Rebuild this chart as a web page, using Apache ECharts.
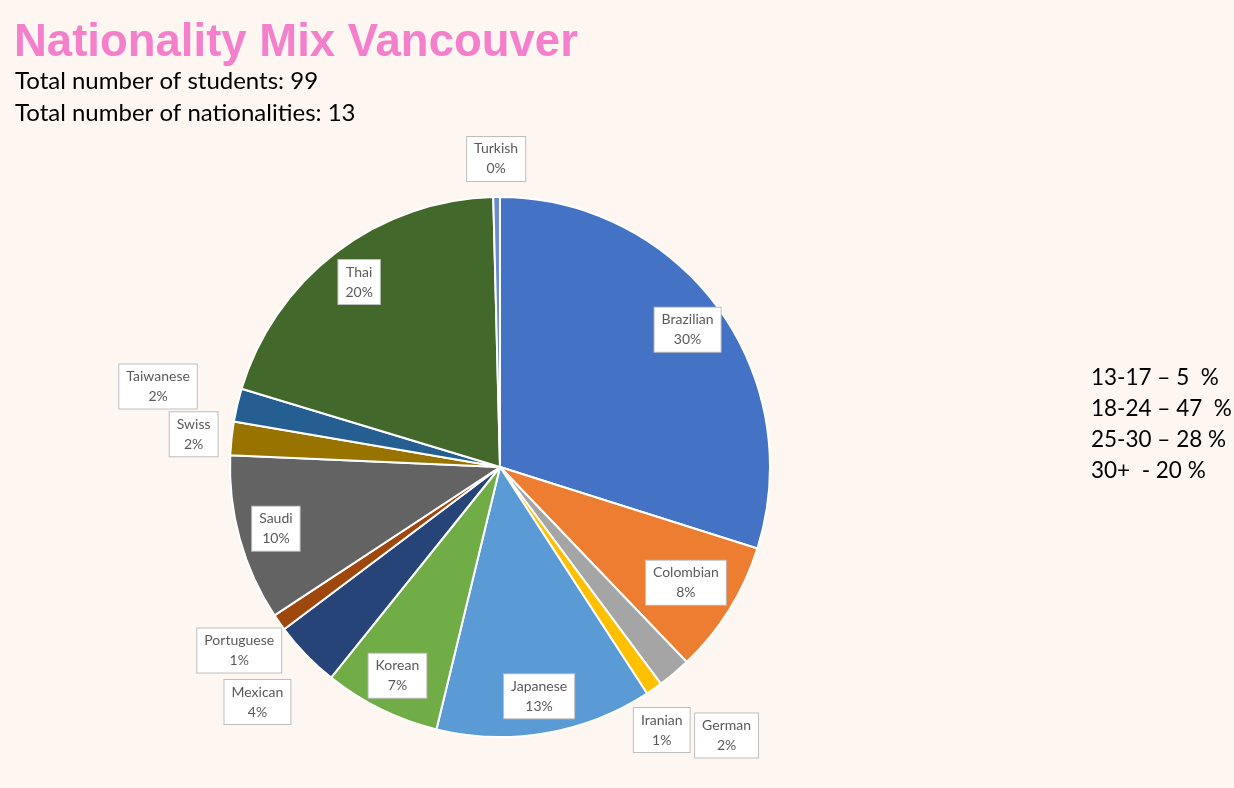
<!DOCTYPE html>
<html>
<head>
<meta charset="utf-8">
<style>
  html, body { margin: 0; padding: 0; background: #fdf6f1; }
  #chart { width: 1234px; height: 788px; }
</style>
<script src="https://cdn.jsdelivr.net/npm/echarts@6/dist/echarts.min.js"></script>
</head>
<body>
<div id="chart"></div>
<script>
// nationality shares in percent, clockwise from 12 o'clock
var nationalities = ["Brazilian", "Colombian", "German", "Iranian", "Japanese", "Korean",
  "Mexican", "Portuguese", "Saudi", "Swiss", "Taiwanese", "Thai", "Turkish"]
var shares = [30, 8, 2, 1, 13, 7, 4, 1, 10, 2, 2, 20, 0.4]
var sliceColors = ["#4472C4", "#ED7D31", "#A5A5A5", "#FFC000", "#5B9BD5", "#70AD47",
  "#264478", "#9E480E", "#636363", "#997300", "#255E91", "#43682B", "#698ED0"]

// which callout ring each label sits on (ring = fraction of pie radius)
var labelRings = [
  { names: ["Brazilian", "Japanese", "Korean", "Saudi", "Thai"], at: 0.85 },
  { names: ["Colombian"], at: 0.8 },
  { names: ["Turkish", "Swiss", "Iranian"], at: 1.13 },
  { names: ["Portuguese"], at: 1.17 },
  { names: ["Mexican"], at: 1.24 },
  { names: ["Taiwanese", "German"], at: 1.29 },
]
// small nudges so neighbouring callouts do not collide
var labelNudge = { Iranian: [-14, 10] }

var ageGroups = ["13-17 \u2013 5  %", "18-24 \u2013 47  %", "25-30 \u2013 28 %", "30+  - 20 %"]

var total = shares.reduce(function (a, b) { return a + b }, 0)
var R = 270
var center = [500, 467]

var calloutStyle = {
  color: "#595959",
  fontFamily: "Lato",
  fontSize: 14,
  lineHeight: 20,
  backgroundColor: "#ffffff",
  borderColor: "#bfbfbf",
  borderWidth: 1,
  padding: [2, 7, 2, 7],
  formatter: function (p) {
    return p.name + "\n" + Math.round(p.value / total * 100) + "%"
  },
}

// invisible ring whose "inside" labels land at half its radius
function labelRing(ring) {
  return {
    type: "pie",
    silent: true,
    center: center,
    radius: [0, R * ring.at * 2],
    startAngle: 90,
    clockwise: true,
    avoidLabelOverlap: false,
    labelLayout: { hideOverlap: false },
    z: 5,
    itemStyle: { color: "transparent", borderWidth: 0 },
    labelLine: { show: false },
    data: nationalities.map(function (n, i) {
      var on = ring.names.indexOf(n) >= 0
      return {
        name: n,
        value: shares[i],
        label: Object.assign({ show: on, position: "inside", offset: labelNudge[n] || [0, 0] }, calloutStyle),
      }
    }),
  }
}

var chart = echarts.init(document.getElementById("chart"))

var option = {
  backgroundColor: "#fdf6f1",
  animation: false,
  graphic: [
    {
      type: "text",
      left: 14,
      top: 20,
      style: {
        text: "Nationality Mix Vancouver",
        fill: "#f47fcb",
        font: "bold 45.5px 'Liberation Sans'",
      },
    },
    {
      type: "text",
      left: 15,
      top: 65,
      style: {
        text: "Total number of students: 99\nTotal number of nationalities: 13",
        fill: "#000000",
        font: "24px Lato",
        lineHeight: 32,
      },
    },
    {
      type: "text",
      left: 1091,
      top: 362,
      style: {
        text: ageGroups.join("\n"),
        fill: "#000000",
        font: "22.5px Lato",
        lineHeight: 31,
      },
    },
  ],
  series: [
    {
      type: "pie",
      center: center,
      radius: [0, R],
      startAngle: 90,
      clockwise: true,
      label: { show: false },
      labelLine: { show: false },
      itemStyle: { borderColor: "#ffffff", borderWidth: 2 },
      data: nationalities.map(function (n, i) {
        return { name: n, value: shares[i], itemStyle: { color: sliceColors[i] } }
      }),
    },
  ].concat(labelRings.map(labelRing)),
}

chart.setOption(option)
</script>
</body>
</html>
